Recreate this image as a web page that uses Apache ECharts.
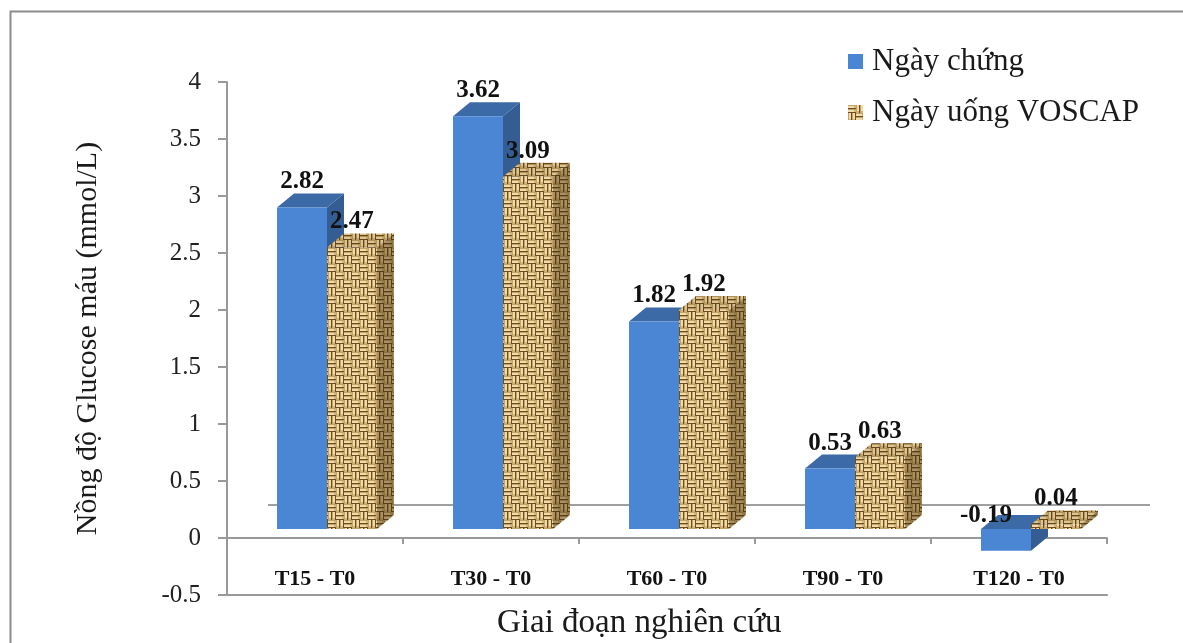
<!DOCTYPE html>
<html>
<head>
<meta charset="utf-8">
<script src="https://cdn.jsdelivr.net/npm/echarts@6/dist/echarts.min.js"></script>
<style>
  html, body { margin: 0; padding: 0; background: #fff; }
  #main { width: 1183px; height: 643px; }
</style>
</head>
<body>
<div id="main"></div>
<script>
var categories = ["T15 - T0", "T30 - T0", "T60 - T0", "T90 - T0", "T120 - T0"];
var controlDay = [2.82, 3.62, 1.82, 0.53, -0.19];
var voscapDay = [2.47, 3.09, 1.92, 0.63, 0.04];
var seriesNames = ["Ngày chứng", "Ngày uống VOSCAP"];

var FONT = "'Liberation Serif', 'Times New Roman', serif";

// woven texture for the second series
function weave() {
  var c = document.createElement("canvas");
  c.width = 16; c.height = 16;
  var g = c.getContext("2d");
  g.fillStyle = "#c4a264";
  g.fillRect(0, 0, 16, 16);
  for (var i = 0; i < 2; i++) {
    for (var j = 0; j < 2; j++) {
      var x = i * 8, y = j * 8;
      for (var k = 0; k < 2; k++) {
        var o = k * 4;
        if ((i + j) % 2 === 0) {
          g.fillStyle = "#efdcaa"; g.fillRect(x, y + o + 1, 8, 2);
          g.fillStyle = "#d4b67a"; g.fillRect(x + 6, y + o + 1, 2, 2);
          g.fillStyle = "#6e4c1f"; g.fillRect(x, y + o + 3, 8, 1);
        } else {
          g.fillStyle = "#efdcaa"; g.fillRect(x + o + 1, y, 2, 8);
          g.fillStyle = "#d4b67a"; g.fillRect(x + o + 1, y + 6, 2, 2);
          g.fillStyle = "#6e4c1f"; g.fillRect(x + o + 3, y, 1, 8);
        }
      }
    }
  }
  return { image: c, repeat: "repeat" };
}
var weavePattern = weave();

var faces = [
  { front: "#4a86d4", top: "#3c6aa6", side: "#345d93", shade: null },
  { front: weavePattern, top: weavePattern, side: weavePattern, shade: "rgba(60,35,0,0.4)" }
];

// 3D look: bar plane shift and bar depth (pixels)
var PLANE = [12, -9];
var DEPTH = [17, -14];
var BACK = [41, -33];

function makeBarRender(s) {
  return function (params, api) {
    var i = api.value(0), v = api.value(1);
    var base = api.coord([i, 0]);
    var topP = api.coord([i, v]);
    var cw = api.size([1, 0])[0];
    var bw = cw * 0.284;
    var cx = base[0] + PLANE[0];
    var x0 = s === 0 ? cx - bw : cx;
    var x1 = x0 + bw;
    var yA = base[1] + PLANE[1], yB = topP[1] + PLANE[1];
    var yU = Math.min(yA, yB), yL = Math.max(yA, yB);
    var f = faces[s];
    var side = [[x1, yU], [x1 + DEPTH[0], yU + DEPTH[1]], [x1 + DEPTH[0], yL + DEPTH[1]], [x1, yL]];
    var top = [[x0, yU], [x1, yU], [x1 + DEPTH[0], yU + DEPTH[1]], [x0 + DEPTH[0], yU + DEPTH[1]]];
    var children = [
      { type: "polygon", shape: { points: side }, style: { fill: f.side } },
      { type: "polygon", shape: { points: top }, style: { fill: f.top } },
      { type: "rect", shape: { x: x0, y: yU, width: bw, height: yL - yU }, style: { fill: f.front } }
    ];
    if (f.shade) {
      children.push({ type: "polygon", shape: { points: side }, style: { fill: f.shade } });
      children.push({ type: "polygon", shape: { points: top }, style: { fill: "rgba(60,35,0,0.12)" } });
    }
    var lx = (x0 + x1) / 2, ly = yU + DEPTH[1] + 1, va = "bottom";
    if (v < 0) { lx -= 20; ly = yU - 13; va = "middle"; }
    children.push({
      type: "text", z2: 10,
      style: { text: String(v), x: lx, y: ly, align: "center", verticalAlign: va, fill: "#111", font: "bold 25px " + FONT }
    });
    return { type: "group", children: children };
  };
}

function renderFloor(params, api) {
  var p = api.coord([0, 0]);
  var cw = api.size([1, 0])[0];
  var left = p[0] - cw / 2;
  var right = left + cw * categories.length;
  return {
    type: "line",
    shape: { x1: left + BACK[0], y1: p[1] + BACK[1], x2: right + BACK[0] + 2, y2: p[1] + BACK[1] },
    style: { stroke: "#a0a0a0", lineWidth: 2 }
  };
}

var chart = echarts.init(document.getElementById("main"));
chart.setOption({
  backgroundColor: "#fff",
  animation: false,
  title: {
    text: "Giai đoạn nghiên cứu",
    left: 492, top: 602,
    textStyle: { fontFamily: FONT, fontWeight: "normal", fontSize: 33, color: "#1a1a1a" }
  },
  legend: {
    orient: "vertical",
    left: 843, top: 41,
    itemWidth: 15, itemHeight: 15, itemGap: 20,
    icon: "rect",
    data: seriesNames,
    textStyle: { fontFamily: FONT, fontSize: 31, color: "#1a1a1a", padding: [0, 0, 0, 4] }
  },
  graphic: [{
    type: "rect", left: 8, top: 9, silent: true,
    shape: { width: 1200, height: 700 },
    style: { fill: "none", stroke: "#8c8c8c", lineWidth: 2 }
  }],
  grid: { left: 227, right: 76, top: 82, bottom: 48 },
  xAxis: [{
    type: "category",
    data: categories,
    axisLine: { onZero: true, lineStyle: { color: "#999", width: 2 } },
    axisTick: { show: true, length: 6, lineStyle: { color: "#999", width: 2 } },
    axisLabel: { show: false }
  }, {
    type: "category",
    data: categories,
    position: "bottom",
    axisLine: { onZero: false, lineStyle: { color: "#999", width: 2 } },
    axisTick: { show: false },
    axisLabel: { inside: true, margin: 5, fontFamily: FONT, fontWeight: "bold", fontSize: 22, color: "#111" }
  }],
  yAxis: {
    type: "value",
    min: -0.5, max: 4, interval: 0.5,
    name: "Nồng độ Glucose máu (mmol/L)",
    nameLocation: "middle",
    nameGap: 124,
    nameTextStyle: { fontFamily: FONT, fontSize: 30, color: "#1a1a1a" },
    axisLine: { show: true, lineStyle: { color: "#999", width: 2 } },
    axisTick: { show: true, length: 9, lineStyle: { color: "#999", width: 2 } },
    axisLabel: { margin: 26, fontFamily: FONT, fontSize: 25, color: "#222" },
    splitLine: { show: false }
  },
  series: [{
    type: "custom",
    name: "floor",
    silent: true,
    renderItem: renderFloor,
    data: [[0, 0]]
  }, {
    type: "custom",
    name: seriesNames[0],
    itemStyle: { color: "#4a86d4" },
    renderItem: makeBarRender(0),
    data: controlDay.map(function (v, i) { return [i, v]; })
  }, {
    type: "custom",
    name: seriesNames[1],
    itemStyle: { color: weavePattern },
    renderItem: makeBarRender(1),
    data: voscapDay.map(function (v, i) { return [i, v]; })
  }]
});
</script>
</body>
</html>
